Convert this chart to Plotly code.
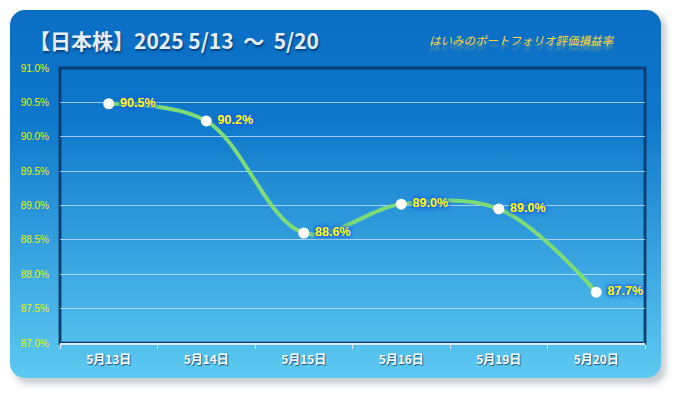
import base64
import plotly.graph_objects as go

# ---- data ----
dates = ["5月13日", "5月14日", "5月15日", "5月16日", "5月19日", "5月20日"]
rates = [90.48, 90.23, 88.60, 89.02, 88.95, 87.74]
labels = ["90.5%", "90.2%", "88.6%", "89.0%", "89.0%", "87.7%"]
title_text = "【日本株】2025\u00a05/13\u00a0\u00a0〜\u00a0\u00a05/20"
subtitle_text = "はいみのポートフォリオ評価損益率"

W, H = 675, 393
L, R, T, B = 60, 30, 68, 50
PW, PH = W - L - R, H - T - B

# background card (gradient rounded rectangle with shadow) as inline SVG
svg = f'''<svg xmlns="http://www.w3.org/2000/svg" width="{W}" height="{H}" viewBox="0 0 {W} {H}">
<defs>
<linearGradient id="g" x1="0" y1="0" x2="0" y2="1">
<stop offset="0" stop-color="#0A6EC5"/>
<stop offset="0.3" stop-color="#0E78CB"/>
<stop offset="1" stop-color="#5DCAF2"/>
</linearGradient>
<filter id="s" x="-10%" y="-10%" width="120%" height="120%"><feGaussianBlur stdDeviation="3"/></filter>
</defs>
<rect x="14" y="14" width="652" height="370" rx="15" ry="15" fill="#9AA4AE" opacity="0.55" filter="url(#s)"/>
<rect x="10" y="10" width="651" height="368" rx="15" ry="15" fill="url(#g)"/>
</svg>'''
src = "data:image/svg+xml;base64," + base64.b64encode(svg.encode()).decode()

fig = go.Figure()
fig.add_trace(go.Scatter(
    x=dates, y=rates, mode="lines+markers+text",
    line=dict(color="#7EDC78", width=4, shape="spline", smoothing=1),
    marker=dict(color="white", size=11),
    text=["\u00a0" + t for t in labels], textposition="middle right",
    textfont=dict(family="Liberation Sans", size=12.5, color="#FFFF00", weight="bold",
                  shadow="0px 0px 2px #1F60E8, 0px 0px 3px #1F60E8, 0px 0px 4px #1F60E8, 0px 0px 6px #2A6CEB"),
    cliponaxis=False, hoverinfo="skip",
))

fig.add_layout_image(dict(
    source=src, xref="paper", yref="paper",
    x=-L / PW, y=1 + T / PH, sizex=W / PW, sizey=H / PH,
    xanchor="left", yanchor="top", sizing="stretch", layer="below",
))

# plot frame with shadow
fig.add_shape(type="rect", xref="paper", yref="paper", x0=0, x1=1, y0=0, y1=1,
              line=dict(color="rgba(5,40,80,0.35)", width=4), layer="below")
fig.add_shape(type="rect", xref="paper", yref="paper", x0=0, x1=1, y0=0, y1=1,
              line=dict(color="#0B3F74", width=2), layer="below")

fig.add_annotation(x=(27 - L) / PW, y=(H - B - 40) / PH, xref="paper", yref="paper",
                   xanchor="left", yanchor="middle", text=title_text, showarrow=False,
                   font=dict(family="Noto Sans CJK JP", size=21, color="#E4EEF8", weight="bold",
                             shadow="1px 2px 2px rgba(0,30,70,0.6)"))
fig.add_annotation(x=(521 - L) / PW, y=(H - B - 40) / PH, xref="paper", yref="paper",
                   xanchor="center", yanchor="middle", text=subtitle_text, showarrow=False,
                   font=dict(family="Noto Sans CJK JP", size=11.5, color="#FFD83A", style="italic",
                             shadow="0px 5px 2px rgba(255,215,80,0.35)"))

fig.update_layout(
    width=W, height=H, margin=dict(l=L, r=R, t=T, b=B),
    paper_bgcolor="white", plot_bgcolor="rgba(0,0,0,0)",
    showlegend=False,
)
fig.update_xaxes(
    type="category", range=[-0.5, len(dates) - 0.5], showgrid=False, zeroline=False,
    showline=True, linecolor="#D8ECF8", linewidth=1.5,
    ticks="outside", ticklen=4, tickcolor="#D8ECF8",
    tickson="boundaries", ticklabelstandoff=5,
    tickfont=dict(family="Noto Sans CJK JP", size=12, color="white", weight="bold",
                  shadow="1px 1px 1px rgba(0,40,90,0.7)"),
)
fig.update_yaxes(
    range=[87, 91], dtick=0.5, tickformat=".1f", ticksuffix="%",
    showgrid=True, gridcolor="rgba(205,230,250,0.75)", gridwidth=1,
    zeroline=False, showline=False, ticks="", ticklabelstandoff=10,
    tickfont=dict(family="Liberation Sans", size=10, color="#E6F200"),
)

fig.write_html("out.html", post_script="document.body.style.margin='0';",
               config={"displayModeBar": False})
